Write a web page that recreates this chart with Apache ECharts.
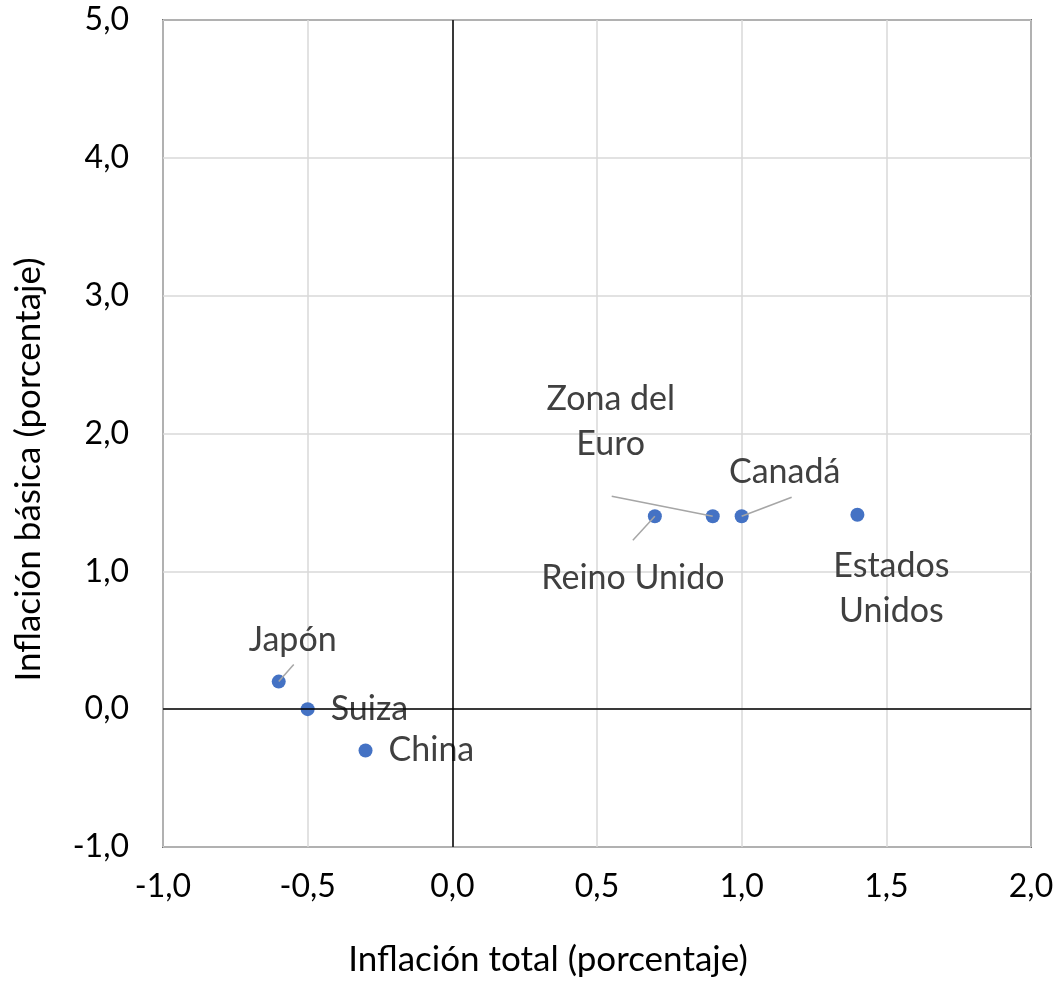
<!DOCTYPE html>
<html>
<head>
<meta charset="utf-8">
<script src="https://cdn.jsdelivr.net/npm/echarts@6/dist/echarts.min.js"></script>
<style>html,body{margin:0;padding:0;background:#fff}#c{width:1061px;height:982px}</style>
</head>
<body>
<div id="c"></div>
<script>
// Data
const countries = ['Japón', 'Suiza', 'China', 'Reino Unido', 'Zona del\nEuro', 'Canadá', 'Estados\nUnidos'];
const headline = [-0.6, -0.5, -0.3, 0.7, 0.9, 1.0, 1.4];
const core = [0.2, 0.0, -0.3, 1.4, 1.4, 1.4, 1.41];
const xTicks = [-1.0, -0.5, 0.0, 0.5, 1.0, 1.5, 2.0];
const yTicks = [-1, 0, 1, 2, 3, 4, 5];

// Label layout (pixel offsets, style only)
const labelOffsets = {
  'Japón': { dx: 14, dy: -42 },
  'Reino Unido': { dx: -22, dy: 62 },
  'Zona del\nEuro': { dx: -102, dy: -95 },
  'Canadá': { dx: 43, dy: -44 },
  'Estados\nUnidos': { dx: 34, dy: 74 }
};
// Leader line end offsets (pixels from the marker centre, style only)
const leaderOffsets = {
  'Japón': [15, -17],
  'Reino Unido': [-22, 24],
  'Zona del\nEuro': [-101, -20],
  'Canadá': [50, -19]
};
const rightLabels = ['Suiza', 'China'];

const FONT = 'Lato';
const LABEL_SIZE = 34;
const NAME_SIZE = 35;
const TICK_SIZE = 32;
const fmt = v => v.toFixed(1).replace('.', ',');

const data = countries.map((n, i) => {
  const item = { name: n, value: [headline[i], core[i]] };
  if (rightLabels.includes(n)) {
    item.label = { position: 'right', distance: 16 };
  } else {
    item.label = { position: 'inside' };
  }
  return item;
});

const chart = echarts.init(document.getElementById('c'), null, { renderer: 'canvas' });
chart.setOption({
  animation: false,
  backgroundColor: '#fff',
  grid: { left: 163, top: 20, width: 868, height: 827, show: true, borderColor: '#000', borderWidth: 1.5, backgroundColor: 'transparent' },
  xAxis: {
    type: 'value', min: -1, max: 2, interval: 0.5,
    name: 'Inflación total (porcentaje)', nameLocation: 'middle', nameGap: 95,
    nameTextStyle: { fontFamily: FONT, fontSize: NAME_SIZE, color: '#000', padding: [0, 98, 0, 0] },
    axisLine: { show: false }, axisTick: { show: false },
    axisLabel: { fontFamily: FONT, fontSize: TICK_SIZE, color: '#000', margin: 24, formatter: v => fmt(v) },
    splitLine: { show: true, lineStyle: { color: '#d9d9d9', width: 1.5 } }
  },
  yAxis: {
    type: 'value', min: -1, max: 5, interval: 1,
    name: 'Inflación básica (porcentaje)', nameLocation: 'middle', nameGap: 117,
    nameTextStyle: { fontFamily: FONT, fontSize: NAME_SIZE, color: '#000', padding: [0, 72, 0, 0] },
    axisLine: { show: false }, axisTick: { show: false },
    axisLabel: { fontFamily: FONT, fontSize: TICK_SIZE, color: '#000', margin: 34, formatter: v => fmt(v) },
    splitLine: { show: true, lineStyle: { color: '#d9d9d9', width: 1.5 } }
  },
  series: [{
    type: 'scatter',
    symbol: 'circle',
    symbolSize: 14,
    itemStyle: { color: '#4472c4', opacity: 1 },
    data: data,
    label: {
      show: true, formatter: p => p.name,
      fontFamily: FONT, fontSize: LABEL_SIZE, color: '#404040', lineHeight: 45
    },
    labelLayout: p => {
      const o = labelOffsets[countries[p.dataIndex]];
      return o ? { dx: o.dx, dy: o.dy } : {};
    },
    markLine: {
      silent: true, symbol: 'none', animation: false,
      label: { show: false },
      lineStyle: { color: '#000', width: 1.5, type: 'solid' },
      data: [{ xAxis: 0 }, { yAxis: 0 }]
    },
    z: 3
  }]
});

// Leader lines anchored to the data points via the chart's own scales
const leaders = [];
countries.forEach((n, i) => {
  const off = leaderOffsets[n];
  if (!off) return;
  const p = chart.convertToPixel({ gridIndex: 0 }, [headline[i], core[i]]);
  leaders.push({
    type: 'line', silent: true, z: 100,
    shape: { x1: p[0], y1: p[1], x2: p[0] + off[0], y2: p[1] + off[1] },
    style: { stroke: '#a6a6a6', lineWidth: 1.5 }
  });
});
chart.setOption({ graphic: leaders });
</script>
</body>
</html>
